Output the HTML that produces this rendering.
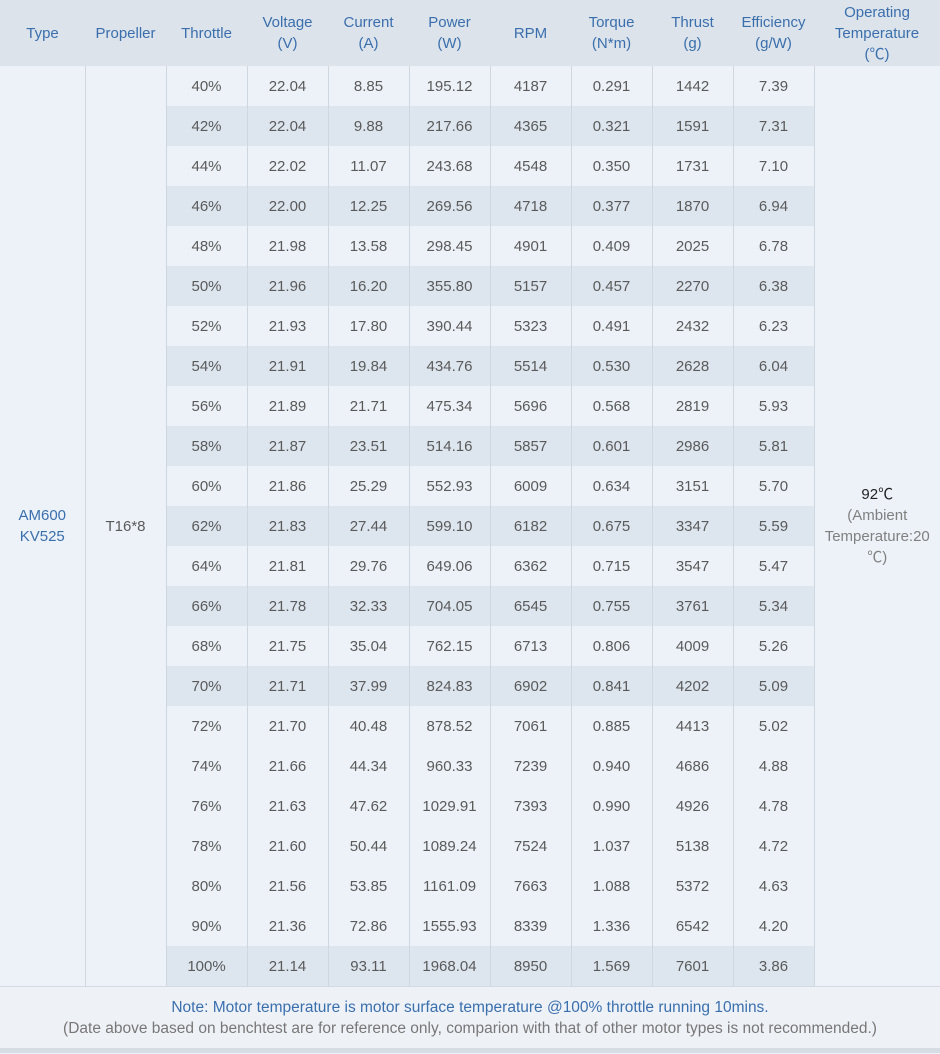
<!DOCTYPE html>
<html><head><meta charset="utf-8"><style>
body{margin:0;width:940px;height:1054px;background:#eef2f8;font-family:"Liberation Sans","Noto Sans CJK SC",sans-serif;overflow:hidden}
table{border-collapse:collapse;table-layout:fixed;width:940px}
th,td{padding:0;text-align:center;font-size:15px;font-weight:normal}
th{background:#dce3ea;color:#3a6fae;height:66px;line-height:21px;border:none}
td{height:40px;color:#5a5a5a;border-left:1px solid #cfd6de;border-right:1px solid #cfd6de}
tr.l td.v{background:#edf2f8}
tr.d td.v{background:#dde5ee}
td.big{background:#edf2f8;line-height:21px}
.note{height:62px;border-top:1px solid #d3dae2;background:#eef2f7;text-align:center;font-size:15.5px;line-height:21px;padding-top:10px;box-sizing:border-box;white-space:nowrap}
.foot{height:5px;background:#d6dce3}
</style></head><body>
<table>
<colgroup><col style="width:85px"><col style="width:81px"><col style="width:81px"><col style="width:81px"><col style="width:81px"><col style="width:81px"><col style="width:81px"><col style="width:81px"><col style="width:81px"><col style="width:81px"><col style="width:126px"></colgroup>
<tr><th>Type</th><th>Propeller</th><th>Throttle</th><th>Voltage<br>(V)</th><th>Current<br>(A)</th><th>Power<br>(W)</th><th>RPM</th><th>Torque<br>(N*m)</th><th>Thrust<br>(g)</th><th>Efficiency<br>(g/W)</th><th>Operating<br>Temperature<br>(℃)</th></tr>
<tr class="l"><td class="big" rowspan="23" style="color:#3a6fae;border-left:none">AM600<br>KV525</td><td class="big" rowspan="23">T16*8</td><td class="v">40%</td><td class="v">22.04</td><td class="v">8.85</td><td class="v">195.12</td><td class="v">4187</td><td class="v">0.291</td><td class="v">1442</td><td class="v">7.39</td><td class="big" rowspan="23" style="border-right:none;color:#808080"><span style="color:#222">92℃</span><br>(Ambient<br>Temperature:20<br>℃)</td></tr>
<tr class="d"><td class="v">42%</td><td class="v">22.04</td><td class="v">9.88</td><td class="v">217.66</td><td class="v">4365</td><td class="v">0.321</td><td class="v">1591</td><td class="v">7.31</td></tr>
<tr class="l"><td class="v">44%</td><td class="v">22.02</td><td class="v">11.07</td><td class="v">243.68</td><td class="v">4548</td><td class="v">0.350</td><td class="v">1731</td><td class="v">7.10</td></tr>
<tr class="d"><td class="v">46%</td><td class="v">22.00</td><td class="v">12.25</td><td class="v">269.56</td><td class="v">4718</td><td class="v">0.377</td><td class="v">1870</td><td class="v">6.94</td></tr>
<tr class="l"><td class="v">48%</td><td class="v">21.98</td><td class="v">13.58</td><td class="v">298.45</td><td class="v">4901</td><td class="v">0.409</td><td class="v">2025</td><td class="v">6.78</td></tr>
<tr class="d"><td class="v">50%</td><td class="v">21.96</td><td class="v">16.20</td><td class="v">355.80</td><td class="v">5157</td><td class="v">0.457</td><td class="v">2270</td><td class="v">6.38</td></tr>
<tr class="l"><td class="v">52%</td><td class="v">21.93</td><td class="v">17.80</td><td class="v">390.44</td><td class="v">5323</td><td class="v">0.491</td><td class="v">2432</td><td class="v">6.23</td></tr>
<tr class="d"><td class="v">54%</td><td class="v">21.91</td><td class="v">19.84</td><td class="v">434.76</td><td class="v">5514</td><td class="v">0.530</td><td class="v">2628</td><td class="v">6.04</td></tr>
<tr class="l"><td class="v">56%</td><td class="v">21.89</td><td class="v">21.71</td><td class="v">475.34</td><td class="v">5696</td><td class="v">0.568</td><td class="v">2819</td><td class="v">5.93</td></tr>
<tr class="d"><td class="v">58%</td><td class="v">21.87</td><td class="v">23.51</td><td class="v">514.16</td><td class="v">5857</td><td class="v">0.601</td><td class="v">2986</td><td class="v">5.81</td></tr>
<tr class="l"><td class="v">60%</td><td class="v">21.86</td><td class="v">25.29</td><td class="v">552.93</td><td class="v">6009</td><td class="v">0.634</td><td class="v">3151</td><td class="v">5.70</td></tr>
<tr class="d"><td class="v">62%</td><td class="v">21.83</td><td class="v">27.44</td><td class="v">599.10</td><td class="v">6182</td><td class="v">0.675</td><td class="v">3347</td><td class="v">5.59</td></tr>
<tr class="l"><td class="v">64%</td><td class="v">21.81</td><td class="v">29.76</td><td class="v">649.06</td><td class="v">6362</td><td class="v">0.715</td><td class="v">3547</td><td class="v">5.47</td></tr>
<tr class="d"><td class="v">66%</td><td class="v">21.78</td><td class="v">32.33</td><td class="v">704.05</td><td class="v">6545</td><td class="v">0.755</td><td class="v">3761</td><td class="v">5.34</td></tr>
<tr class="l"><td class="v">68%</td><td class="v">21.75</td><td class="v">35.04</td><td class="v">762.15</td><td class="v">6713</td><td class="v">0.806</td><td class="v">4009</td><td class="v">5.26</td></tr>
<tr class="d"><td class="v">70%</td><td class="v">21.71</td><td class="v">37.99</td><td class="v">824.83</td><td class="v">6902</td><td class="v">0.841</td><td class="v">4202</td><td class="v">5.09</td></tr>
<tr class="l"><td class="v">72%</td><td class="v">21.70</td><td class="v">40.48</td><td class="v">878.52</td><td class="v">7061</td><td class="v">0.885</td><td class="v">4413</td><td class="v">5.02</td></tr>
<tr class="l"><td class="v">74%</td><td class="v">21.66</td><td class="v">44.34</td><td class="v">960.33</td><td class="v">7239</td><td class="v">0.940</td><td class="v">4686</td><td class="v">4.88</td></tr>
<tr class="l"><td class="v">76%</td><td class="v">21.63</td><td class="v">47.62</td><td class="v">1029.91</td><td class="v">7393</td><td class="v">0.990</td><td class="v">4926</td><td class="v">4.78</td></tr>
<tr class="l"><td class="v">78%</td><td class="v">21.60</td><td class="v">50.44</td><td class="v">1089.24</td><td class="v">7524</td><td class="v">1.037</td><td class="v">5138</td><td class="v">4.72</td></tr>
<tr class="l"><td class="v">80%</td><td class="v">21.56</td><td class="v">53.85</td><td class="v">1161.09</td><td class="v">7663</td><td class="v">1.088</td><td class="v">5372</td><td class="v">4.63</td></tr>
<tr class="l"><td class="v">90%</td><td class="v">21.36</td><td class="v">72.86</td><td class="v">1555.93</td><td class="v">8339</td><td class="v">1.336</td><td class="v">6542</td><td class="v">4.20</td></tr>
<tr class="d"><td class="v">100%</td><td class="v">21.14</td><td class="v">93.11</td><td class="v">1968.04</td><td class="v">8950</td><td class="v">1.569</td><td class="v">7601</td><td class="v">3.86</td></tr>
</table>
<div class="note"><span style="color:#3a6fae">Note: Motor temperature is motor surface temperature @100% throttle running 10mins.</span><br><span style="color:#777">(Date above based on benchtest are for reference only, comparion with that of other motor types is not recommended.)</span></div>
<div class="foot"></div>
</body></html>
